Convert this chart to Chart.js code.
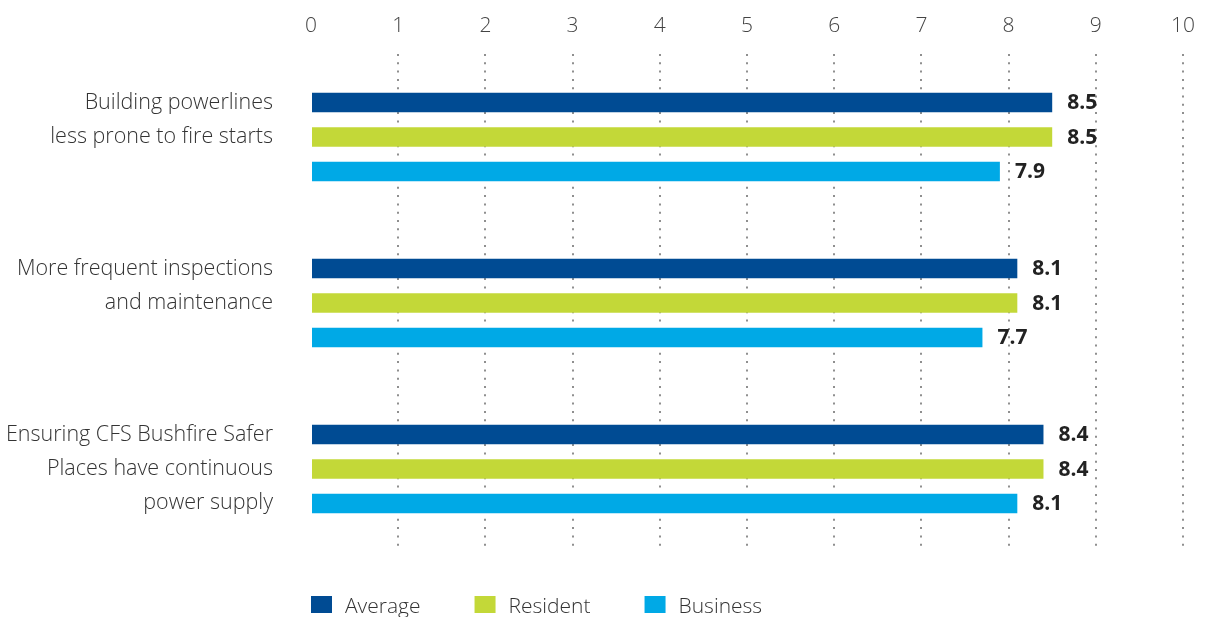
<!DOCTYPE html>
<html>
<head>
<meta charset="utf-8">
<script src="https://cdn.jsdelivr.net/npm/chart.js@4"></script>
<style>
  html, body { margin: 0; padding: 0; background: #fff; }
  #wrap { width: 1210px; height: 617px; position: relative; }
</style>
</head>
<body>
<div id="wrap"><canvas id="canvas" width="1210" height="617"></canvas></div>
<script>
// Kategorien (mehrzeilig, leere Zeile damit der Text oben beim ersten Balken beginnt)
const categories = [
  ['Building powerlines', 'less prone to fire starts', ''],
  ['More frequent inspections', 'and maintenance', ''],
  ['Ensuring CFS Bushfire Safer', 'Places have continuous', 'power supply']
];

// Werte pro Gruppe
const averageValues = [8.5, 8.1, 8.4];
const residentValues = [8.5, 8.1, 8.4];
const businessValues = [7.9, 7.7, 8.1];

const seriesNames = ['Average', 'Resident', 'Business'];
const seriesColors = ['#004b93', '#c3d838', '#00a9e6'];

const axisMin = 0;
const axisMax = 10;

const fontFamily = "'Open Sans', 'DejaVu Sans', sans-serif";

// Werte rechts neben den Balken
const valueLabels = {
  id: 'valueLabels',
  afterDatasetsDraw(chart) {
    const ctx = chart.ctx;
    ctx.save();
    ctx.font = `bold 21px ${fontFamily}`;
    ctx.fillStyle = '#222';
    ctx.textBaseline = 'middle';
    ctx.textAlign = 'left';
    chart.data.datasets.forEach((ds, i) => {
      chart.getDatasetMeta(i).data.forEach((bar, j) => {
        ctx.fillText(ds.data[j].toFixed(1), bar.x + 15, bar.y + 1);
      });
    });
    ctx.restore();
  }
};

// Legende unten links, bündig mit dem Diagrammbereich
const bottomLegend = {
  id: 'bottomLegend',
  afterDraw(chart) {
    const ctx = chart.ctx;
    ctx.save();
    ctx.font = `300 21px ${fontFamily}`;
    ctx.textBaseline = 'alphabetic';
    let x = chart.chartArea.left;
    const y = 596;
    chart.data.datasets.forEach(ds => {
      ctx.fillStyle = ds.backgroundColor;
      ctx.fillRect(x, y, 21, 17);
      ctx.fillStyle = '#333';
      ctx.fillText(ds.label, x + 34, y + 17);
      x += 34 + ctx.measureText(ds.label).width + 54;
    });
    ctx.restore();
  }
};

const ctx = document.querySelector('#canvas');
const chart = new Chart(ctx, {
  type: 'bar',
  data: {
    labels: categories,
    datasets: [averageValues, residentValues, businessValues].map((vals, i) => ({
      label: seriesNames[i],
      data: vals,
      backgroundColor: seriesColors[i],
      categoryPercentage: 0.6235,
      barPercentage: 0.565
    }))
  },
  options: {
    indexAxis: 'y',
    responsive: false,
    animation: false,
    layout: { padding: { top: 0, right: 27, bottom: 65, left: 0 } },
    plugins: {
      legend: { display: false },
      tooltip: { enabled: false }
    },
    scales: {
      x: {
        position: 'top',
        min: axisMin,
        max: axisMax,
        // Höhe fest, damit die Balkenfläche bei y=54 beginnt
        afterFit(scale) { scale.height = 54; },
        ticks: {
          stepSize: 1,
          padding: 15,
          color: '#444',
          font: { family: fontFamily, size: 21, weight: 300 }
        },
        grid: {
          drawTicks: false,
          lineWidth: 2,
          color: c => (c.tick && c.tick.value === 0) ? 'rgba(0,0,0,0)' : '#8f8f8f'
        },
        border: { display: false, dash: [2, 6.3] }
      },
      y: {
        afterFit(scale) {
          scale.width = 311;
          // keine zusätzliche Polsterung für die mehrzeiligen Beschriftungen
          scale.paddingTop = 0;
          scale.paddingBottom = 0;
        },
        ticks: {
          padding: 38,
          color: '#333',
          font: { family: fontFamily, size: 21.5, weight: 300, lineHeight: '34px' }
        },
        grid: { display: false, drawTicks: false },
        border: { display: false }
      }
    }
  },
  plugins: [valueLabels, bottomLegend]
});
</script>
</body>
</html>
